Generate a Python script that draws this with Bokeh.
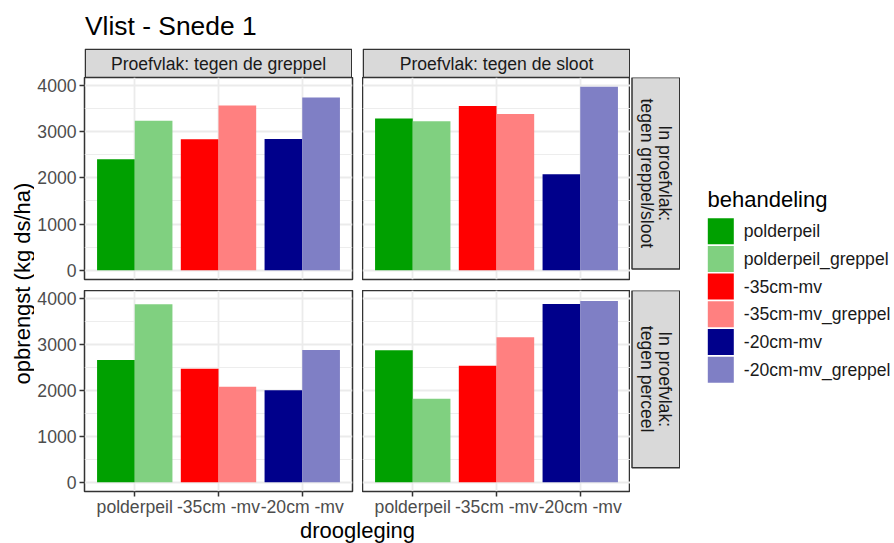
import numpy as np
from bokeh.plotting import figure
from bokeh.layouts import row, column
from bokeh.models import (ColumnDataSource, FactorRange, Range1d, FixedTicker,
                          CategoricalTicker, Spacer)
from bokeh.transform import dodge
from bokeh.core.properties import value
from bokeh.embed import file_html
from bokeh.resources import INLINE

# ---------------- data ----------------
title_text = "Vlist - Snede 1"
x_title = "droogleging"
y_title = "opbrengst (kg ds/ha)"
legend_title = "behandeling"
categories = ["polderpeil", "-35cm -mv", "-20cm -mv"]
treatments = ["polderpeil", "polderpeil_greppel", "-35cm-mv",
              "-35cm-mv_greppel", "-20cm-mv", "-20cm-mv_greppel"]
treatment_colors = ["#00A000", "#80D080", "#FF0000", "#FF8080", "#00008B", "#7F7FC5"]
col_strips = ["Proefvlak: tegen de greppel", "Proefvlak: tegen de sloot"]
row_strips = [["In proefvlak:", "tegen greppel/sloot"], ["In proefvlak:", "tegen perceel"]]
y_ticks = [0, 1000, 2000, 3000, 4000]
y_minor = [500, 1500, 2500, 3500]

# top-left: tegen de greppel / tegen greppel/sloot
tl_plain = [2400, 2835, 2840]
tl_greppel = [3235, 3565, 3735]
# top-right: tegen de sloot / tegen greppel/sloot
tr_plain = [3280, 3555, 2075]
tr_greppel = [3220, 3380, 3970]
# bottom-left: tegen de greppel / tegen perceel
bl_plain = [2660, 2470, 2000]
bl_greppel = [3870, 2075, 2875]
# bottom-right: tegen de sloot / tegen perceel
br_plain = [2870, 2535, 3875]
br_greppel = [1815, 3155, 3940]

# ---------------- style ----------------
FONT = "Liberation Sans"
FRAME_W, FRAME_H = 268, 202
LEFT_B, GAP_X, GAP_Y, XAX_B = 50, 10, 11, 27
STRIP_H, RSTRIP_W = 29, 50
BORDER = "#333333"
GRID = "#EBEBEB"

all_vals = tl_plain + tl_greppel + tr_plain + tr_greppel + bl_plain + bl_greppel + br_plain + br_greppel
ymax = max(all_vals)
y_lo, y_hi = -0.05 * ymax, 1.05 * ymax

plain_colors = treatment_colors[0::2]
greppel_colors = treatment_colors[1::2]


def canvas_fig(w, h, **kw):
    p = figure(width=w, height=h, x_range=Range1d(0, w), y_range=Range1d(h, 0),
               x_axis_location=None, y_axis_location=None,
               toolbar_location=None, output_backend="svg", **kw)
    p.min_border_left = p.min_border_right = p.min_border_top = p.min_border_bottom = 0
    p.grid.visible = False
    p.outline_line_color = None
    p.background_fill_color = None
    p.border_fill_color = None
    return p


def make_panel(plain, greppel, show_y, show_x):
    left = LEFT_B if show_y else 0
    right = GAP_X if show_y else 0
    bottom = XAX_B if show_x else GAP_Y
    p = figure(width=FRAME_W + left + right, height=FRAME_H + bottom,
               x_range=FactorRange(factors=categories, range_padding=0.1,
                                   range_padding_units="absolute"),
               y_range=Range1d(y_lo, y_hi),
               x_axis_location="below" if show_x else None,
               y_axis_location="left" if show_y else None,
               toolbar_location=None, output_backend="svg")
    p.min_border_left = left
    p.min_border_right = right
    p.min_border_top = 0
    p.min_border_bottom = bottom
    p.background_fill_color = "white"
    p.border_fill_color = "white"
    p.outline_line_color = BORDER
    p.outline_line_width = 1.5

    p.ygrid.ticker = FixedTicker(ticks=y_ticks, minor_ticks=y_minor)
    p.ygrid.grid_line_color = GRID
    p.ygrid.grid_line_width = 1.8
    p.ygrid.minor_grid_line_color = GRID
    p.ygrid.minor_grid_line_width = 0.9
    p.xgrid.ticker = CategoricalTicker()
    p.xgrid.grid_line_color = GRID
    p.xgrid.grid_line_width = 1.8

    src = ColumnDataSource(dict(cat=categories, plain=plain, greppel=greppel,
                                c1=plain_colors, c2=greppel_colors))
    p.vbar(x=dodge("cat", -0.225, range=p.x_range), top="plain", bottom=0, width=0.45,
           fill_color="c1", line_color=None, source=src)
    p.vbar(x=dodge("cat", 0.225, range=p.x_range), top="greppel", bottom=0, width=0.45,
           fill_color="c2", line_color=None, source=src)

    for ax in p.axis:
        ax.axis_line_color = None
        ax.major_tick_line_color = BORDER
        ax.major_tick_line_width = 1.5
        ax.major_tick_in = 0
        ax.major_tick_out = 5
        ax.minor_tick_line_color = None
        ax.major_label_text_font = FONT
        ax.major_label_text_font_size = "17.6px"
        ax.major_label_text_color = "#4D4D4D"
    if show_y:
        p.yaxis.ticker = FixedTicker(ticks=y_ticks)
        p.yaxis.major_label_standoff = 3
    if show_x:
        p.xaxis.major_label_standoff = 0
        p.xaxis.major_label_text_line_height = 1.0
    return p


def col_strip(label):
    p = canvas_fig(FRAME_W, STRIP_H)
    p.quad(left=[0.75], right=[FRAME_W - 0.75], top=[0.75], bottom=[STRIP_H],
           fill_color="#D9D9D9", line_color=BORDER, line_width=1.5)
    p.text(x=[FRAME_W / 2], y=[STRIP_H / 2 + 0.5], text=[label], text_align="center",
           text_baseline="middle", text_font=value(FONT), text_font_size="17.6px",
           text_color="#1A1A1A")
    return p


def row_strip(lines, h):
    p = canvas_fig(RSTRIP_W, h)
    p.quad(left=[1.5], right=[RSTRIP_W - 0.75], top=[0], bottom=[FRAME_H],
           fill_color="#D9D9D9", line_color=BORDER, line_width=1.5)
    xs = [34, 16]
    p.text(x=xs, y=[FRAME_H / 2] * 2, text=lines, angle=-np.pi / 2, text_align="center",
           text_baseline="middle", text_font=value(FONT), text_font_size="17.6px",
           text_color="#1A1A1A")
    return p


# panels
pTL = make_panel(tl_plain, tl_greppel, True, False)
pTR = make_panel(tr_plain, tr_greppel, False, False)
pBL = make_panel(bl_plain, bl_greppel, True, True)
pBR = make_panel(br_plain, br_greppel, False, True)

sTL = col_strip(col_strips[0])
sTR = col_strip(col_strips[1])
rsT = row_strip(row_strips[0], FRAME_H + GAP_Y)
rsB = row_strip(row_strips[1], FRAME_H + XAX_B)

mid_w = LEFT_B + FRAME_W + GAP_X + FRAME_W + RSTRIP_W
strip_row = row(Spacer(width=LEFT_B, height=STRIP_H), sTL,
                Spacer(width=GAP_X, height=STRIP_H), sTR,
                Spacer(width=RSTRIP_W, height=STRIP_H))
top_row = row(pTL, pTR, rsT)
bot_row = row(pBL, pBR, rsB)

TOTAL_W, TOTAL_H = 894, 543
TITLE_H = 48
XL_H = TOTAL_H - TITLE_H - (STRIP_H + FRAME_H + GAP_Y + FRAME_H + XAX_B)
xlab = canvas_fig(mid_w, XL_H)
xlab.text(x=[LEFT_B + (FRAME_W * 2 + GAP_X) / 2], y=[11], text=[x_title],
          text_align="center", text_baseline="middle", text_font=value(FONT),
          text_font_size="22px", text_color="black")

mid_h = TOTAL_H - TITLE_H
mid = column(strip_row, top_row, bot_row, xlab)

YL_W = 34
ylab = canvas_fig(YL_W, mid_h)
ylab.text(x=[22], y=[235], text=[y_title], angle=np.pi / 2, text_align="center",
          text_baseline="middle", text_font=value(FONT), text_font_size="22px",
          text_color="black")

LEG_W = TOTAL_W - YL_W - mid_w
leg = canvas_fig(LEG_W, mid_h)
leg.text(x=[27], y=[151], text=[legend_title], text_align="left",
         text_baseline="middle", text_font=value(FONT), text_font_size="22px",
         text_color="black")
key_top0, key_step, key_size, key_x = 169.7, 27.7, 26, 27.3
tops = [key_top0 + i * key_step for i in range(len(treatments))]
leg.quad(left=[key_x] * len(treatments), right=[key_x + key_size] * len(treatments),
         top=tops, bottom=[t + key_size for t in tops], fill_color=treatment_colors,
         line_color=None)
leg.text(x=[key_x + 36] * len(treatments), y=[t + key_size / 2 for t in tops],
         text=treatments, text_align="left", text_baseline="middle",
         text_font=value(FONT), text_font_size="17.6px", text_color="#1A1A1A")

tfig = canvas_fig(TOTAL_W, TITLE_H)
tfig.text(x=[84.5], y=[25], text=[title_text], text_align="left",
          text_baseline="middle", text_font=value(FONT), text_font_size="26.4px",
          text_color="black")

layout = column(tfig, row(ylab, mid, leg))

open("out.html", "w").write(file_html(layout, INLINE))
